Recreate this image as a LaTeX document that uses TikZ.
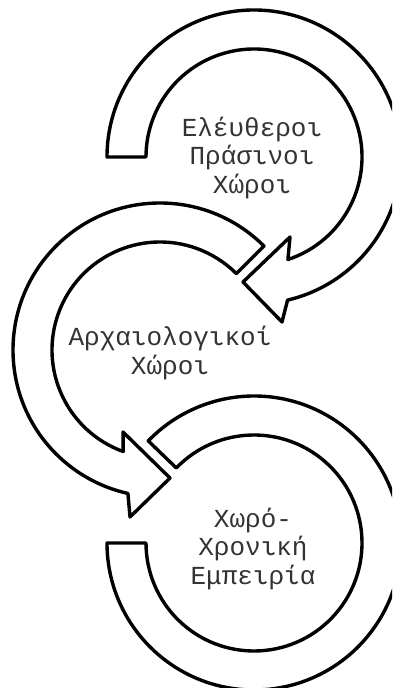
\documentclass[tikz,border=0pt]{standalone}
\usepackage{fontspec}
\newfontfamily\lblfont{Liberation Mono}
\begin{document}
\begin{tikzpicture}[x=1pt,y=1pt,
  ring/.style={draw=black,fill=white,line width=3.4pt,line join=round},
  lbl/.style={font=\lblfont\fontsize{26}{28.5}\selectfont,align=center,text=black!80,inner sep=0pt}]
\useasboundingbox (0,0) rectangle (392,688);
\clip (0,0) rectangle (392,688);
\fill[white] (0,0) rectangle (392,688);
\coordinate (c1) at (254,531);
\coordinate (c2) at (160,338);
\coordinate (c3) at (254,145);
% arrow 1
\draw[ring] ([shift={(180:147)}]c1) arc[start angle=180,end angle=-76.8,radius=147pt]
  -- (282,366) -- (243,406) -- (290,451)
  -- ([shift={(-71.7:108)}]c1) arc[start angle=-71.7,end angle=180,radius=108pt] -- cycle;
% arrow 2
\draw[ring] ([shift={(45:147)}]c2) arc[start angle=45,end angle=257.4,radius=147pt]
  -- (130,171) -- (170,210) -- (123,256)
  -- ([shift={(250.1:108)}]c2) arc[start angle=250.1,end angle=45,radius=108pt] -- cycle;
% arrow 3
\draw[ring] ([shift={(180:147)}]c3) arc[start angle=180,end angle=496,radius=147pt]
  -- ([shift={(496:108)}]c3) arc[start angle=496,end angle=180,radius=108pt] -- cycle;
\node[lbl] (t1) at (252,530) {Ελέυθεροι\\Πράσινοι\\Χώροι};
\node[lbl] (t2) at (170,335) {Αρχαιολογικοί\\Χώροι};
\node[lbl] (t3) at (253,139) {Χωρό-\\Χρονική\\Εμπειρία};
\end{tikzpicture}
\end{document}
